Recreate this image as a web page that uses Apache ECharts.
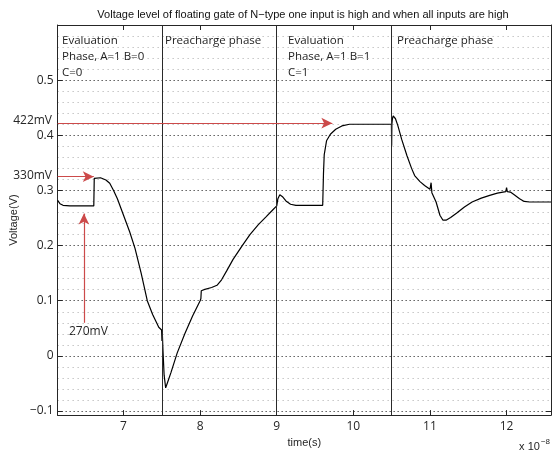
<!DOCTYPE html>
<html>
<head>
<meta charset="utf-8">
<script src="https://cdn.jsdelivr.net/npm/echarts/dist/echarts.min.js"></script>
<style>
  html, body { margin: 0; padding: 0; background: #fff; }
  #chart { width: 552px; height: 453px; }
</style>
</head>
<body>
<div id="chart"></div>
<script>
// time axis in units of 1e-8 s, voltage in V
const timeData = [6.14, 6.17, 6.21, 6.3, 6.45, 6.612, 6.618, 6.635, 6.7, 6.77, 6.82, 6.87, 6.92, 7.0, 7.08, 7.15, 7.23, 7.31, 7.38, 7.46,
  7.497, 7.502, 7.505, 7.515, 7.53, 7.55, 7.57, 7.62, 7.7, 7.8, 7.9, 8.0, 8.01, 8.015, 8.05, 8.15, 8.22, 8.28, 8.35, 8.43,
  8.55, 8.65, 8.76, 8.86, 8.95, 9.0, 9.015, 9.04, 9.08, 9.12, 9.18, 9.25, 9.4, 9.6, 9.61, 9.62, 9.65, 9.7, 9.77, 9.85,
  9.95, 10.2, 10.497, 10.5, 10.503, 10.51, 10.52, 10.55, 10.58, 10.63, 10.7, 10.76, 10.8, 10.87, 10.93, 11.0, 11.01, 11.015, 11.025, 11.04,
  11.08, 11.13, 11.17, 11.21, 11.27, 11.35, 11.45, 11.55, 11.67, 11.78, 11.88, 11.99, 12.0, 12.01, 12.05, 12.1, 12.17, 12.23, 12.3, 12.45, 12.58]
const voltData = [0.282, 0.276, 0.273, 0.272, 0.272, 0.272, 0.322, 0.325, 0.323, 0.319, 0.313, 0.300, 0.285, 0.255, 0.225, 0.195, 0.150, 0.100, 0.075, 0.052,
  0.047, 0.027, 0.047, 0.010, -0.035, -0.058, -0.050, -0.030, 0.005, 0.040, 0.072, 0.100, 0.104, 0.118, 0.120, 0.124, 0.128, 0.138, 0.155, 0.175,
  0.200, 0.220, 0.238, 0.252, 0.265, 0.272, 0.285, 0.292, 0.288, 0.281, 0.275, 0.273, 0.273, 0.273, 0.330, 0.365, 0.390, 0.402, 0.411, 0.417,
  0.420, 0.420, 0.420, 0.381, 0.420, 0.430, 0.435, 0.430, 0.418, 0.393, 0.363, 0.340, 0.327, 0.316, 0.309, 0.302, 0.300, 0.314, 0.296, 0.295,
  0.279, 0.255, 0.246, 0.246, 0.251, 0.259, 0.270, 0.279, 0.286, 0.291, 0.295, 0.298, 0.305, 0.298, 0.297, 0.292, 0.285, 0.280, 0.279, 0.279, 0.279]

// phase boundaries (x 1e-8 s)
const phaseBounds = [7.5, 9, 10.5]

// red annotation arrows [time, volt]
const arrowStart = [[6.14, 0.422], [6.14, 0.325], [6.483, 0.06]]
const arrowEnd = [[9.726, 0.422], [6.612, 0.325], [6.483, 0.258]]

const titleText = 'Voltage level of floating gate of N\u2212type one input is high and when all inputs are high'

const chart = echarts.init(document.getElementById('chart'))

const tickFont = { fontFamily: 'Open Sans', fontSize: 12, color: '#262626' }
const red = '#cc4a4a'

const markData = phaseBounds.map(v => ({
  xAxis: v,
  lineStyle: { color: '#2a2a2a', width: 1, type: 'solid' }
}))
arrowStart.forEach((s, i) => {
  markData.push([
    { coord: s, symbol: 'none' },
    { coord: arrowEnd[i], symbol: 'arrow', symbolSize: [8, 11], lineStyle: { color: red, width: 1.2, type: 'solid' } }
  ])
})

const xBase = {
  type: 'value',
  min: 6.14,
  max: 12.58,
  splitNumber: 6,
  splitLine: { show: false },
  axisLine: { show: true, onZero: false, lineStyle: { color: '#262626', width: 1 } },
  axisTick: { show: true, inside: true, length: 5, lineStyle: { color: '#262626' } }
}
const yBase = {
  type: 'value',
  min: -0.1074,
  max: 0.6,
  splitNumber: 7,
  axisLine: { show: true, onZero: false, lineStyle: { color: '#262626', width: 1 } },
  axisTick: { show: true, inside: true, length: 5, lineStyle: { color: '#262626' } }
}

const option = {
  backgroundColor: '#fff',
  animation: false,
  grid: { left: 53, right: 1, top: 25, bottom: 35 },
  xAxis: [
    Object.assign({}, xBase, {
      position: 'bottom',
      name: 'time(s)',
      nameLocation: 'middle',
      nameGap: 18,
      nameTextStyle: { fontFamily: 'Liberation Sans', fontSize: 11, color: '#262626' },
      axisLabel: Object.assign({ margin: 5, showMinLabel: false, showMaxLabel: false }, tickFont)
    }),
    Object.assign({}, xBase, { position: 'top', axisLabel: { show: false } })
  ],
  yAxis: [
    Object.assign({}, yBase, {
      position: 'left',
      name: 'Voltage(V)',
      nameLocation: 'middle',
      nameGap: 32,
      nameTextStyle: { fontFamily: 'Liberation Sans', fontSize: 11, color: '#262626' },
      axisLabel: Object.assign({
        margin: 4, showMinLabel: false, showMaxLabel: false,
        formatter: v => {
          const r = Math.round(v * 10) / 10
          return r === 0 ? '0' : String(r).replace('-', '\u2212')
        }
      }, tickFont),
      splitLine: { show: true, lineStyle: { color: '#111', width: 1, type: [1, 3] } },
      minorTick: { show: false, splitNumber: 5 },
      minorSplitLine: { show: true, lineStyle: { color: '#aaa', width: 1, type: [1, 4] } }
    }),
    Object.assign({}, yBase, {
      position: 'right',
      axisLabel: { show: false },
      splitLine: { show: false }
    })
  ],
  graphic: [
    {
      type: 'text', x: 303, y: 15, silent: true,
      style: { text: titleText, align: 'center', verticalAlign: 'middle', font: '11px "Liberation Sans"', fill: '#111' }
    },
    {
      type: 'text', x: 62, y: 33, silent: true,
      style: { text: 'Evaluation\nPhase, A=1 B=0\nC=0', lineHeight: 16, verticalAlign: 'top', font: '11.5px "Open Sans"', fill: '#222' }
    },
    {
      type: 'text', x: 165, y: 33, silent: true,
      style: { text: 'Preacharge phase', lineHeight: 16, verticalAlign: 'top', font: '11.5px "Open Sans"', fill: '#222' }
    },
    {
      type: 'text', x: 288, y: 33, silent: true,
      style: { text: 'Evaluation\nPhase, A=1 B=1\nC=1', lineHeight: 16, verticalAlign: 'top', font: '11.5px "Open Sans"', fill: '#222' }
    },
    {
      type: 'text', x: 397, y: 33, silent: true,
      style: { text: 'Preacharge phase', lineHeight: 16, verticalAlign: 'top', font: '11.5px "Open Sans"', fill: '#222' }
    },
    {
      type: 'text', x: 52, y: 121, silent: true,
      style: { text: '422mV', align: 'right', verticalAlign: 'middle', font: '12px "Open Sans"', fill: '#262626' }
    },
    {
      type: 'text', x: 52, y: 176, silent: true,
      style: { text: '330mV', align: 'right', verticalAlign: 'middle', font: '12px "Open Sans"', fill: '#262626' }
    },
    {
      type: 'text', x: 69, y: 332, silent: true,
      style: { text: '270mV', align: 'left', verticalAlign: 'middle', font: '12px "Open Sans"', fill: '#262626' }
    },
    {
      type: 'text', x: 550, y: 444, silent: true,
      style: {
        text: '{b|x 10}{s|\u22128}',
        align: 'right',
        verticalAlign: 'middle',
        rich: {
          b: { font: '11px "Liberation Sans"', fill: '#262626', padding: [6, 0, 0, 0] },
          s: { font: '8px "Liberation Sans"', fill: '#262626', padding: [0, 0, 4, 1] }
        }
      }
    }
  ],
  series: [
    {
      type: 'line',
      data: timeData.map((t, i) => [t, voltData[i]]),
      showSymbol: false,
      symbol: 'none',
      lineStyle: { color: '#000', width: 1.2 },
      itemStyle: { color: '#000' },
      silent: true,
      clip: true,
      markLine: {
        silent: true,
        symbol: ['none', 'none'],
        label: { show: false },
        animation: false,
        z: 10,
        data: markData
      }
    }
  ]
}

chart.setOption(option)
</script>
</body>
</html>
